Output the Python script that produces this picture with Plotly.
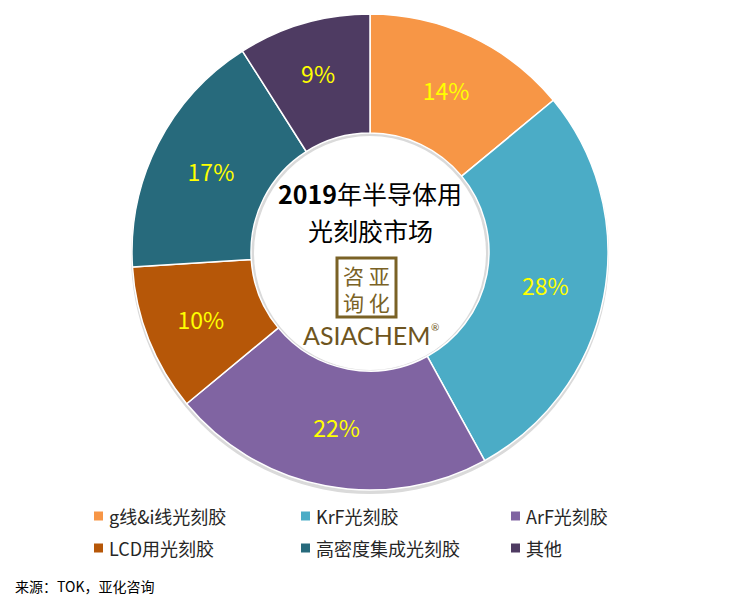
import plotly.graph_objects as go

# ---- data ----
categories = ["g线&i线光刻胶", "KrF光刻胶", "ArF光刻胶", "LCD用光刻胶", "高密度集成光刻胶", "其他"]
shares = [14, 28, 22, 10, 17, 9]
colors = ["#F79646", "#4BACC6", "#8064A2", "#B65708", "#276A7C", "#4E3B62"]
title_lines = ["<b>2019</b>年半导体用", "光刻胶市场"]
logo_cn = "咨 亚<br>询 化"
logo_en = "ASIACHEM"
source_text = "来源：TOK，亚化咨询"

W, H = 745, 611
OFF = 8  # page offset of the plot div inside the browser window
CJK = "Noto Sans CJK SC"


def px(x):
    return (x - OFF) / W


def py(y):
    return 1 - (y - OFF) / H


fig = go.Figure()
fig.add_trace(go.Pie(
    labels=categories,
    values=shares,
    hole=0.5,
    sort=False,
    direction="clockwise",
    rotation=0,
    marker=dict(colors=colors, line=dict(color="#FFFFFF", width=1.5)),
    texttemplate="%{percent:.0%}",
    textposition="inside",
    insidetextorientation="horizontal",
    textfont=dict(color="#FFFF00", size=23, family=CJK),
    domain=dict(x=[px(132), px(608)], y=[py(490), py(14)]),
    showlegend=False,
    hoverinfo="label+percent",
))

annotations = []
shapes = []

# soft shadow under the ring
shapes.append(dict(
    type="circle", xref="paper", yref="paper", layer="below",
    x0=px(131), x1=px(609), y0=py(494), y1=py(16),
    line=dict(width=0), fillcolor="#DADADA",
))
shapes.append(dict(
    type="circle", xref="paper", yref="paper", layer="below",
    x0=px(254), x1=px(486), y0=py(370), y1=py(136),
    line=dict(width=0), fillcolor="#FFFFFF",
))

# centre title
for i, line in enumerate(title_lines):
    annotations.append(dict(
        x=px(370), y=py(193 + 37 * i), xref="paper", yref="paper",
        text=line, showarrow=False, xanchor="center", yanchor="middle",
        font=dict(size=25, color="#000000", family=CJK),
    ))

# logo
logo_col = "#7A6226"
shapes.append(dict(
    type="rect", xref="paper", yref="paper",
    x0=px(337), x1=px(396), y0=py(258), y1=py(317),
    line=dict(color=logo_col, width=3), fillcolor="rgba(0,0,0,0)",
))
annotations.append(dict(
    x=px(366), y=py(288), xref="paper", yref="paper", text=logo_cn,
    showarrow=False, xanchor="center", yanchor="middle",
    font=dict(size=21, color=logo_col, family=CJK),
))
annotations.append(dict(
    x=px(366), y=py(335), xref="paper", yref="paper", text=logo_en,
    showarrow=False, xanchor="center", yanchor="middle",
    font=dict(size=25, color="#6E5520", family="Lato"),
))
annotations.append(dict(
    x=px(435), y=py(327), xref="paper", yref="paper", text="®",
    showarrow=False, xanchor="center", yanchor="middle",
    font=dict(size=10, color="#6E5520", family="Lato"),
))

# legend (built from the category / colour lists)
col_x = [94, 301, 511]
row_y = [516, 548]
for i, (cat, col) in enumerate(zip(categories, colors)):
    r, c = divmod(i, 3)
    x0, yc = col_x[c], row_y[r]
    shapes.append(dict(
        type="rect", xref="paper", yref="paper",
        x0=px(x0), x1=px(x0 + 9), y0=py(yc + 4.5), y1=py(yc - 4.5),
        line=dict(width=0), fillcolor=col,
    ))
    annotations.append(dict(
        x=px(x0 + 13), y=py(yc), xref="paper", yref="paper", text=cat,
        showarrow=False, xanchor="left", yanchor="middle",
        font=dict(size=18, color="#262626", family=CJK),
    ))

# source
annotations.append(dict(
    x=px(13), y=py(586), xref="paper", yref="paper", text=source_text,
    showarrow=False, xanchor="left", yanchor="middle",
    font=dict(size=14, color="#000000", family=CJK),
))

fig.update_layout(
    width=W, height=H,
    margin=dict(l=0, r=0, t=0, b=0),
    paper_bgcolor="#FFFFFF",
    plot_bgcolor="#FFFFFF",
    annotations=annotations,
    shapes=shapes,
)

fig.write_html("out.html")
